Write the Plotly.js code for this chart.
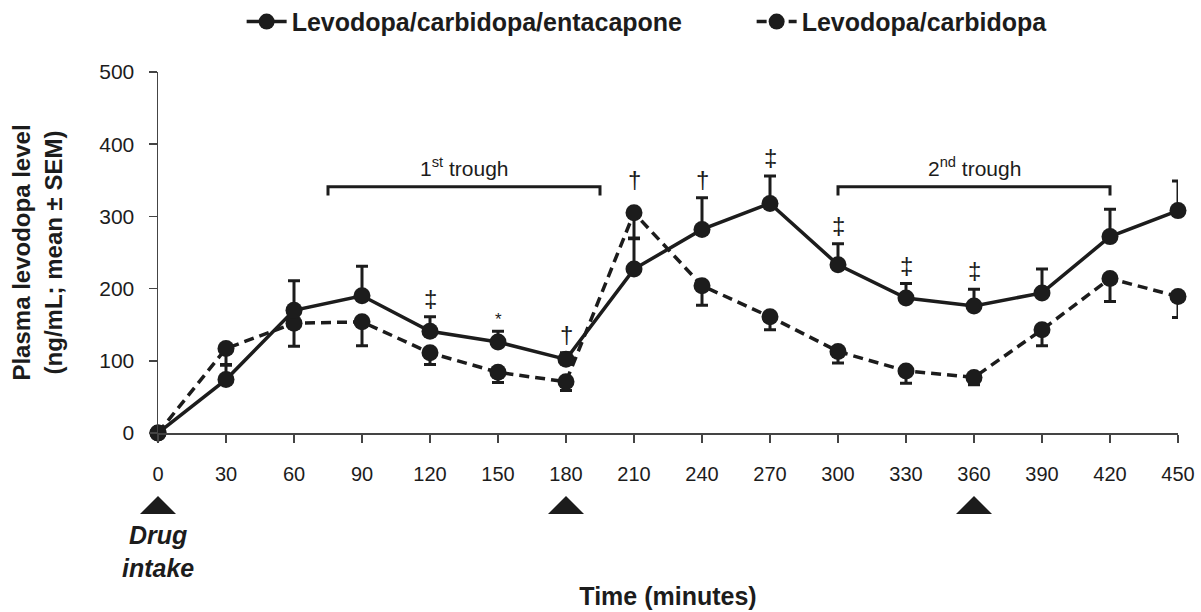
<!DOCTYPE html>
<html>
<head>
<meta charset="utf-8">
<script src="https://cdn.plot.ly/plotly-3.0.1.min.js"></script>
<style>html,body{margin:0;padding:0;background:#fff;}#chart{width:1201px;height:612px;}</style>
</head>
<body>
<div id="chart"></div>
<script>
// ---- data ----
var timeMin = [0, 30, 60, 90, 120, 150, 180, 210, 240, 270, 300, 330, 360, 390, 420, 450];
var lceMean = [0, 74, 170, 190, 141, 126, 102, 227, 282, 318, 233, 187, 176, 194, 272, 308];
var lceSem  = [0, 20, 41, 41, 20, 15, 9, 42, 44, 38, 29, 20, 23, 33, 38, 41];
var lcMean  = [0, 117, 152, 154, 111, 84, 71, 305, 204, 161, 113, 86, 77, 143, 214, 189];
var lcSem   = [0, 22, 32, 33, 16, 14, 12, 35, 27, 18, 16, 17, 10, 22, 32, 29];
var seriesNames = ['Levodopa/carbidopa/entacapone', 'Levodopa/carbidopa'];
var sigTimes   = [120, 150, 180, 210, 240, 270, 300, 330, 360];
var sigSymbols = ['‡', '*', '†', '†', '†', '‡', '‡', '‡', '‡'];
var doseTimes  = [0, 180, 360];
var doseLabel  = 'Drug<br>intake';
var troughStart = [75, 300];
var troughEnd   = [195, 420];
var troughLabels = ['1<sup>st</sup> trough', '2<sup>nd</sup> trough'];
var troughLevel = 341;
var xTicks = [0, 30, 60, 90, 120, 150, 180, 210, 240, 270, 300, 330, 360, 390, 420, 450];
var yTicks = [0, 100, 200, 300, 400, 500];
var xRange = [0, 450];
var yRange = [0, 500];

var FONT = 'Liberation Sans, Arial, Helvetica, sans-serif';
var INK = '#1c1c1c';
var AXIS = '#444';

function xToPaper(v){ return (v - xRange[0]) / (xRange[1] - xRange[0]); }

var zeros = timeMin.map(function(){return 0;});

var traceLC = {
  x: timeMin, y: lcMean, name: seriesNames[1], type: 'scatter', mode: 'lines+markers',
  legend: 'legend2',
  line: {color: INK, width: 3.5, dash: '10px,6px'},
  marker: {color: INK, size: 17},
  error_y: {type: 'data', symmetric: false, array: zeros, arrayminus: lcSem,
            color: INK, thickness: 3, width: 6},
  cliponaxis: false
};
var traceLCE = {
  x: timeMin, y: lceMean, name: seriesNames[0], type: 'scatter', mode: 'lines+markers',
  legend: 'legend',
  line: {color: INK, width: 3.5},
  marker: {color: INK, size: 17},
  error_y: {type: 'data', symmetric: false, array: lceSem, arrayminus: zeros,
            color: INK, thickness: 3, width: 6},
  cliponaxis: false
};

var annotations = [];
var shapes = [];

// significance markers
sigTimes.forEach(function(t, i){
  var k = timeMin.indexOf(t);
  var top = Math.max(lceMean[k] + lceSem[k], lcMean[k] + 20);
  var isStar = sigSymbols[i] === '*';
  annotations.push({
    x: t, y: top, xref: 'x', yref: 'y', text: sigSymbols[i], showarrow: false,
    yanchor: 'bottom', yshift: isStar ? 0 : 3,
    font: {family: FONT, size: isStar ? 17 : 24, color: INK}
  });
});

// trough brackets
troughStart.forEach(function(s, i){
  var e = troughEnd[i];
  shapes.push({type: 'path', xref: 'x', yref: 'y',
    path: 'M' + s + ',' + (troughLevel - 12) + ' L' + s + ',' + troughLevel +
          ' L' + e + ',' + troughLevel + ' L' + e + ',' + (troughLevel - 12),
    line: {color: INK, width: 3}});
  annotations.push({x: (s + e) / 2, y: troughLevel, xref: 'x', yref: 'y',
    text: troughLabels[i], showarrow: false, yanchor: 'bottom', yshift: 5,
    font: {family: FONT, size: 21, color: INK}});
});

// drug intake triangles
doseTimes.forEach(function(t){
  shapes.push({type: 'path', xref: 'paper', yref: 'paper', xsizemode: 'pixel', ysizemode: 'pixel',
    xanchor: xToPaper(t), yanchor: -0.2244, path: 'M-18,0 L18,0 L0,18 Z',
    fillcolor: INK, line: {color: INK, width: 0}});
});

annotations.push({x: doseTimes[0], y: -0.238, xref: 'x', yref: 'paper', text: '<b><i>' + doseLabel + '</i></b>',
  showarrow: false, yanchor: 'top', font: {family: FONT, size: 25, color: INK}});

var legendFont = {family: FONT, size: 25, color: INK, weight: 'bold'};

var layout = {
  width: 1201, height: 612,
  margin: {l: 158, r: 23, t: 72, b: 179, autoexpand: false},
  paper_bgcolor: '#fff', plot_bgcolor: '#fff',
  font: {family: FONT, color: INK},
  showlegend: true,
  legend: {orientation: 'h', x: 0.082, xanchor: 'left', y: 1.139, yanchor: 'middle',
           font: legendFont, itemwidth: 40},
  legend2: {orientation: 'h', x: 0.582, xanchor: 'left', y: 1.139, yanchor: 'middle',
           font: legendFont, itemwidth: 40},
  xaxis: {range: xRange, tickvals: xTicks, ticktext: xTicks.map(String),
          showgrid: false, zeroline: false, showline: true, linecolor: AXIS, linewidth: 1.5,
          ticks: 'outside', ticklen: 8, tickwidth: 1.5, tickcolor: AXIS, ticklabelstandoff: 14,
          tickfont: {family: FONT, size: 20, color: INK},
          title: {text: '<b>Time (minutes)</b>', font: {family: FONT, size: 25, color: INK}, standoff: 104}},
  yaxis: {range: yRange, tickvals: yTicks, ticktext: yTicks.map(String),
          showgrid: false, zeroline: false, showline: true, linecolor: AXIS, linewidth: 1.5,
          ticks: 'outside', ticklen: 8, tickwidth: 1.5, tickcolor: AXIS, ticklabelstandoff: 10,
          tickfont: {family: FONT, size: 21, color: INK},
          title: {text: '<b>Plasma levodopa level<br>(ng/mL; mean ± SEM)</b>', font: {family: FONT, size: 24, color: INK}, standoff: 30}},
  annotations: annotations,
  shapes: shapes
};

Plotly.newPlot('chart', [traceLC, traceLCE], layout, {displayModeBar: false, staticPlot: true});
</script>
</body>
</html>
